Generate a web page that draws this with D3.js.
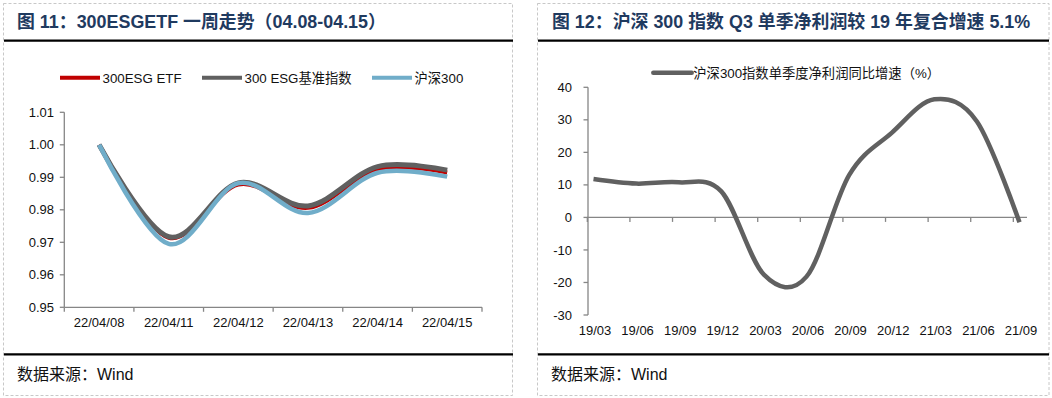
<!DOCTYPE html>
<html>
<head>
<meta charset="utf-8">
<script src="https://cdn.jsdelivr.net/npm/d3@7/dist/d3.min.js"></script>
<style>
  html, body { margin: 0; padding: 0; background: #fff; }
  svg { display: block; }
  text { font-family: "Liberation Sans", Arial, "Noto Sans CJK SC", sans-serif; }
</style>
</head>
<body>
<svg id="chart" width="1052" height="398"></svg>
<script>
// ---------- Data ----------
const leftTitle = "图 11：300ESGETF 一周走势（04.08-04.15）";
const rightTitle = "图 12：沪深 300 指数 Q3 单季净利润较 19 年复合增速 5.1%";
const sourceText = "数据来源：Wind";

const dates = ["22/04/08", "22/04/11", "22/04/12", "22/04/13", "22/04/14", "22/04/15"];
const seriesNames = ["300ESG ETF", "300 ESG基准指数", "沪深300"];
const etfValues   = [1.000, 0.9714, 0.9878, 0.9806, 0.9925, 0.9915];
const benchValues = [1.000, 0.9717, 0.9883, 0.9812, 0.9933, 0.9922];
const hs300Values = [1.000, 0.9695, 0.9882, 0.9790, 0.9914, 0.9902];
const leftYTicks = [0.95, 0.96, 0.97, 0.98, 0.99, 1.00, 1.01];

const quarters = ["19/03", "19/06", "19/09", "19/12", "20/03", "20/06", "20/09", "20/12", "21/03", "21/06", "21/09"];
const profitName = "沪深300指数单季度净利润同比增速（%）";
const profitGrowth = [11.8, 10.4, 10.8, 8.0, -17.6, -18.2, 13.0, 26.0, 36.3, 29.5, -1.5];
const rightYTicks = [-30, -20, -10, 0, 10, 20, 30, 40];

// ---------- Styles ----------
const titleColor = "#1f3a5f";
const axisColor = "#868686";
const seriesColors = ["#c00000", "#606060", "#70adc9"];
const seriesWidths = [4, 5, 4.5];
const rightLineColor = "#606060";

const svg = d3.select("#chart");

// Panel frames (dashed)
svg.append("rect").attr("x", 3.5).attr("y", 3.5).attr("width", 509).attr("height", 392)
  .attr("fill", "none").attr("stroke", "#c8c8c8").attr("stroke-dasharray", "3,2");
svg.append("rect").attr("x", 537.5).attr("y", 3.5).attr("width", 511.5).attr("height", 392)
  .attr("fill", "none").attr("stroke", "#c8c8c8").attr("stroke-dasharray", "3,2");

// Titles
function title(x, txt) {
  svg.append("text").attr("x", x).attr("y", 28).attr("fill", titleColor)
    .attr("font-size", 17.9).attr("font-weight", "bold").text(txt);
}
title(17, leftTitle);
title(552, rightTitle);

// Thick black rules
function rule(x1, x2, y) {
  svg.append("line").attr("x1", x1).attr("x2", x2).attr("y1", y).attr("y2", y)
    .attr("stroke", "#000").attr("stroke-width", 2.2);
}
rule(4, 513, 40.7); rule(538, 1049, 40.7);
rule(4, 513, 354.3); rule(538, 1049, 354.3);

// Footers
svg.append("text").attr("x", 17).attr("y", 380).attr("font-size", 16).attr("fill", "#111").text(sourceText);
svg.append("text").attr("x", 551).attr("y", 380).attr("font-size", 16).attr("fill", "#111").text(sourceText);

// ---------- Left chart ----------
const xL = d3.scaleBand().domain(dates).range([64.3, 482]).padding(0);
const yL = d3.scaleLinear().domain([0.95, 1.01]).range([307.3, 112.3]);
const gL = svg.append("g");

// y axis
gL.append("line").attr("x1", xL.range()[0]).attr("x2", xL.range()[0])
  .attr("y1", yL(1.01)).attr("y2", yL(0.95)).attr("stroke", axisColor).attr("stroke-width", 1.3);
gL.selectAll(".ytk").data(leftYTicks).enter().append("line")
  .attr("x1", xL.range()[0] - 4.5).attr("x2", xL.range()[0])
  .attr("y1", d => yL(d)).attr("y2", d => yL(d)).attr("stroke", axisColor).attr("stroke-width", 1.3);
gL.selectAll(".ylb").data(leftYTicks).enter().append("text")
  .attr("x", 54).attr("y", d => yL(d) + 4.6).attr("text-anchor", "end")
  .attr("font-size", 13).attr("fill", "#111").text(d => d3.format(".2f")(d));

// x axis
gL.append("line").attr("x1", xL.range()[0]).attr("x2", xL.range()[1])
  .attr("y1", yL(0.95)).attr("y2", yL(0.95)).attr("stroke", axisColor).attr("stroke-width", 1.3);
const bounds = dates.map(d => xL(d) + xL.bandwidth()).concat([xL.range()[0]]);
gL.selectAll(".xtk").data(bounds).enter().append("line")
  .attr("x1", d => d).attr("x2", d => d)
  .attr("y1", yL(0.95)).attr("y2", yL(0.95) + 4.5).attr("stroke", axisColor).attr("stroke-width", 1.3);
gL.selectAll(".xlb").data(dates).enter().append("text")
  .attr("x", d => xL(d) + xL.bandwidth() / 2).attr("y", 327).attr("text-anchor", "middle")
  .attr("font-size", 13).attr("fill", "#111").text(d => d);

// lines
const lineL = d3.line().x((d, i) => xL(dates[i]) + xL.bandwidth() / 2).y(d => yL(d))
  .curve(d3.curveCatmullRom.alpha(0));
[etfValues, benchValues, hs300Values].forEach((vals, i) => {
  gL.append("path").attr("d", lineL(vals)).attr("fill", "none")
    .attr("stroke", seriesColors[i]).attr("stroke-width", seriesWidths[i])
    .attr("stroke-linejoin", "round");
});

// legend
const legendXs = [60, 202, 372];
seriesNames.forEach((n, i) => {
  const x0 = legendXs[i];
  svg.append("line").attr("x1", x0).attr("x2", x0 + 40).attr("y1", 77.7).attr("y2", 77.7)
    .attr("stroke", seriesColors[i]).attr("stroke-width", 4);
  svg.append("text").attr("x", x0 + 42.5).attr("y", 82.5).attr("font-size", 13.3)
    .attr("fill", "#111").text(n);
});

// ---------- Right chart ----------
const xR = d3.scalePoint().domain(quarters).range([593.5, 1019.5]);
const yR = d3.scaleLinear().domain([-30, 40]).range([315, 87.3]);
const stepR = xR.step();
const gR = svg.append("g");

// y axis
gR.append("line").attr("x1", 588).attr("x2", 588)
  .attr("y1", yR(40)).attr("y2", yR(-30)).attr("stroke", axisColor).attr("stroke-width", 1.3);
gR.selectAll(".ytk").data(rightYTicks).enter().append("line")
  .attr("x1", 583.5).attr("x2", 588)
  .attr("y1", d => yR(d)).attr("y2", d => yR(d)).attr("stroke", axisColor).attr("stroke-width", 1.3);
gR.selectAll(".ylb").data(rightYTicks).enter().append("text")
  .attr("x", 572).attr("y", d => yR(d) + 4.6).attr("text-anchor", "end")
  .attr("font-size", 13).attr("fill", "#111").text(d => d);

// x axis at zero
gR.append("line").attr("x1", 587.3).attr("x2", xR(quarters[quarters.length - 1]) + 7.5)
  .attr("y1", yR(0)).attr("y2", yR(0)).attr("stroke", axisColor).attr("stroke-width", 1.3);
gR.selectAll(".xtk").data(quarters).enter().append("line")
  .attr("x1", d => xR(d) - stepR * 0.145).attr("x2", d => xR(d) - stepR * 0.145)
  .attr("y1", yR(0)).attr("y2", yR(0) + 4.5).attr("stroke", axisColor).attr("stroke-width", 1.3);
gR.selectAll(".xlb").data(quarters).enter().append("text")
  .attr("x", d => xR(d) + 1.5).attr("y", 335).attr("text-anchor", "middle")
  .attr("font-size", 13).attr("fill", "#111").text(d => d);

const lineR = d3.line().x((d, i) => xR(quarters[i])).y(d => yR(d))
  .curve(d3.curveCatmullRom.alpha(0));
gR.append("path").attr("d", lineR(profitGrowth)).attr("fill", "none")
  .attr("stroke", rightLineColor).attr("stroke-width", 4.5).attr("stroke-linejoin", "round");

// legend
svg.append("line").attr("x1", 653.3).attr("x2", 691.7).attr("y1", 72.7).attr("y2", 72.7)
  .attr("stroke", rightLineColor).attr("stroke-width", 4.5).attr("stroke-linecap", "round");
svg.append("text").attr("x", 693.3).attr("y", 77.5).attr("font-size", 13.3)
  .attr("fill", "#111").text(profitName);
</script>
</body>
</html>
